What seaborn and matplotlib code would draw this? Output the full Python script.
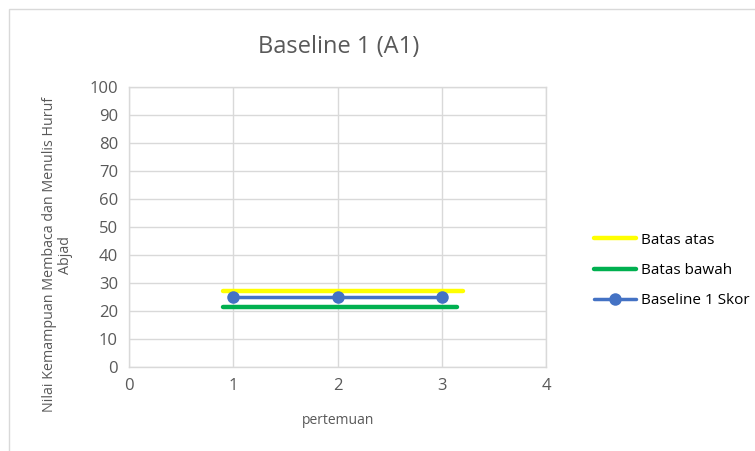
import seaborn as sns
import matplotlib.pyplot as plt
import pandas as pd
from matplotlib.patches import Rectangle

# data
pertemuan = [1, 2, 3]
skor = [25, 25, 25]
atas_x = [0.9, 3.2]
atas_y = [27.2, 27.2]
bawah_x = [0.9, 3.15]
bawah_y = [21.5, 21.5]

sns.set_theme(style='whitegrid')
plt.rcParams['font.family'] = ['Open Sans', 'DejaVu Sans']

text_gray = '#595959'
grid_gray = '#d9d9d9'

fig = plt.figure(figsize=(7.55, 4.51), dpi=100)
ax = fig.add_axes([0.1709, 0.1863, 0.7232 - 0.1709, 0.8071 - 0.1863])

# frame of chart area
fig.patches.append(Rectangle((0.012, -0.01), 1.1, 0.99, transform=fig.transFigure,
                             fill=False, edgecolor='#d9d9d9', linewidth=1))

df_atas = pd.DataFrame({'x': atas_x, 'y': atas_y})
df_bawah = pd.DataFrame({'x': bawah_x, 'y': bawah_y})
df_skor = pd.DataFrame({'x': pertemuan, 'y': skor})

sns.lineplot(data=df_atas, x='x', y='y', color='#FFFF00', linewidth=3.2,
             label='Batas atas', ax=ax)
sns.lineplot(data=df_bawah, x='x', y='y', color='#00B050', linewidth=3.2,
             label='Batas bawah', ax=ax)
sns.lineplot(data=df_skor, x='x', y='y', color='#4472C4', linewidth=2.5,
             marker='o', markersize=9, markeredgewidth=0, label='Baseline 1 Skor', ax=ax)

ax.set_xlim(0, 4)
ax.set_ylim(0, 100)
ax.set_xticks(range(0, 5))
ax.set_yticks(range(0, 101, 10))
ax.grid(True, color=grid_gray, linewidth=1)
for s in ax.spines.values():
    s.set_color(grid_gray)
    s.set_linewidth(1)
ax.tick_params(axis='both', colors=text_gray, labelsize=12, length=0, pad=8)
ax.set_xlabel('')
ax.set_ylabel('')

fig.text(0.448, 0.895, 'Baseline 1 (A1)', ha='center', va='center', fontsize=17, color=text_gray)
fig.text(0.448, 0.068, 'pertemuan', ha='center', va='center', fontsize=10, color=text_gray)
fig.text(0.076, 0.435, 'Nilai Kemampuan Membaca dan Menulis Huruf\nAbjad', ha='center', va='center',
         rotation=90, fontsize=10.3, color=text_gray, linespacing=1.1)

ax.legend(loc='center left', bbox_to_anchor=(0.768, 0.40), bbox_transform=fig.transFigure,
          frameon=False, fontsize=11, handlelength=2.8, labelspacing=1.0, handletextpad=0.3,
          labelcolor='#000000')

fig.savefig('out.png', dpi=100)
